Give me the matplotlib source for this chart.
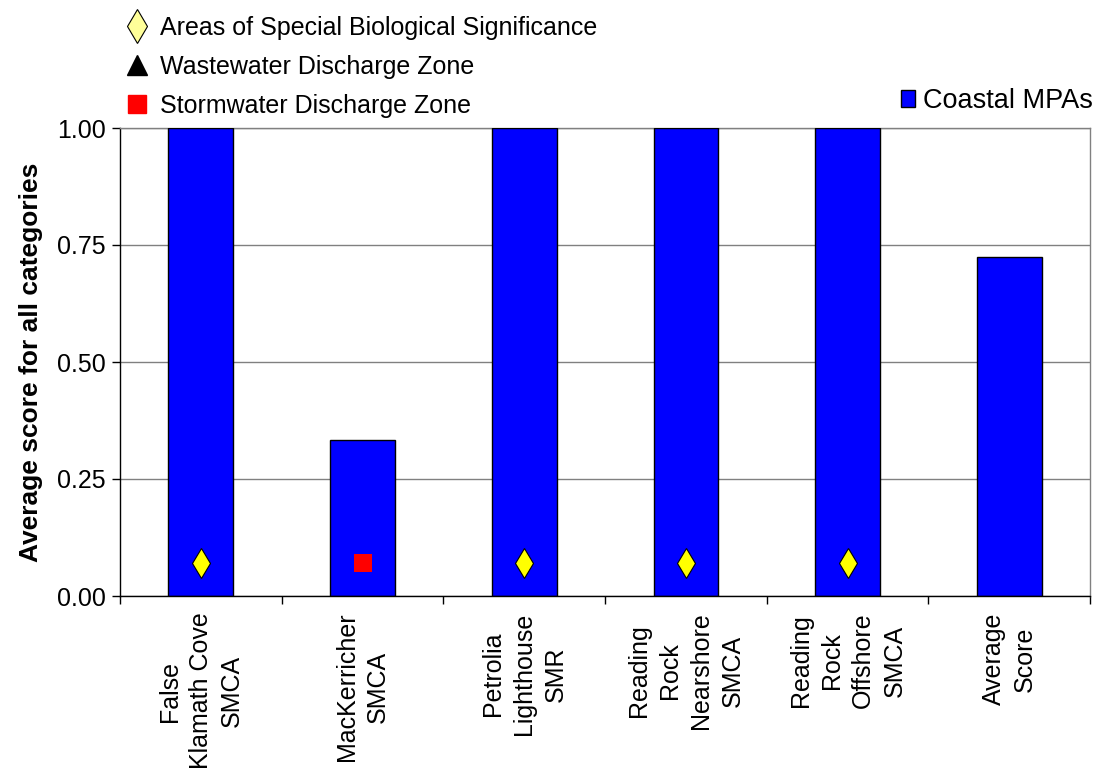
import matplotlib
matplotlib.use("Agg")
import matplotlib.pyplot as plt
from matplotlib.lines import Line2D
from matplotlib.patches import Patch
import numpy as np

plt.rcParams['font.family'] = ['Liberation Sans', 'DejaVu Sans']

categories = ["False\nKlamath Cove\nSMCA", "MacKerricher\nSMCA", "Petrolia\nLighthouse\nSMR",
              "Reading\nRock\nNearshore\nSMCA", "Reading\nRock\nOffshore\nSMCA", "Average\nScore"]
scores = [1.0, 0.333, 1.0, 1.0, 1.0, 0.725]
# marker type per category: 'asbs', 'storm', or None
zone_type = ['asbs', 'storm', 'asbs', 'asbs', 'asbs', None]
marker_y = 0.07
yticks = [0.0, 0.25, 0.5, 0.75, 1.0]

fig = plt.figure(figsize=(10.96, 7.75), dpi=100)
ax = fig.add_axes([120/1096, 1-596/775, (1090-120)/1096, (596-128)/775])

x = np.arange(len(categories))
ax.bar(x, scores, width=0.4, color='#0000FF', edgecolor='black', linewidth=1.0, zorder=3)

asbs_x = [xi for xi, t in zip(x, zone_type) if t == 'asbs']
storm_x = [xi for xi, t in zip(x, zone_type) if t == 'storm']
ax.plot(asbs_x, [marker_y]*len(asbs_x), linestyle='none', marker='d', markersize=15,
        markerfacecolor='#FFFF00', markeredgecolor='black', markeredgewidth=0.8, zorder=4)
ax.plot(storm_x, [marker_y]*len(storm_x), linestyle='none', marker='s', markersize=13.5,
        markerfacecolor='#FF0000', markeredgecolor='#FF0000', markeredgewidth=0, zorder=4)

ax.set_xlim(-0.5, len(categories)-0.5)
ax.set_ylim(0, 1.0)
ax.set_yticks(yticks)
ax.set_yticklabels([f"{v:.2f}" for v in yticks], fontsize=18)
ax.yaxis.grid(True, color='#808080', linewidth=1.0, zorder=0)
ax.tick_params(axis='y', length=6, width=1, direction='out', pad=4, colors='black')

# x ticks between categories
ax.set_xticks(np.arange(len(categories)+1) - 0.5, minor=False)
ax.set_xticklabels([])
ax.tick_params(axis='x', length=6, width=1, direction='out', color='black')
ax.set_xticks(x, minor=True)
ax.set_xticklabels(categories, minor=True, rotation=90, fontsize=18,
                   ha='center', va='top', multialignment='center', linespacing=1.38)
ax.tick_params(axis='x', which='minor', length=0, pad=12)

for s in ['left', 'bottom']:
    ax.spines[s].set_color('black')
    ax.spines[s].set_linewidth(1.0)
for s in ['top', 'right']:
    ax.spines[s].set_color('#808080')
    ax.spines[s].set_linewidth(1.0)
ax.spines['bottom'].set_zorder(5)

ax.set_ylabel("Average score for all categories", fontsize=19, fontweight='bold', labelpad=10)

# zone legend (top left)
h1 = Line2D([], [], linestyle='none', marker='d', markersize=17, markerfacecolor='#FFFF99',
            markeredgecolor='black', markeredgewidth=0.8)
h2 = Line2D([], [], linestyle='none', marker='^', markersize=14, markerfacecolor='black',
            markeredgecolor='black')
h3 = Line2D([], [], linestyle='none', marker='s', markersize=13, markerfacecolor='#FF0000',
            markeredgecolor='#FF0000')
fig.legend([h1, h2, h3], ["Areas of Special Biological Significance", "Wastewater Discharge Zone",
                          "Stormwater Discharge Zone"],
           loc='upper left', bbox_to_anchor=(126/1096, 1-16/775), frameon=False, fontsize=18,
           handlelength=0.9, handletextpad=0.45, labelspacing=0.6, borderpad=0, borderaxespad=0)

# series legend (top right)
fig.legend([Patch(facecolor='#0000FF', edgecolor='black', linewidth=1.0)], ["Coastal MPAs"],
           loc='center right', bbox_to_anchor=(1093/1096, 1-101/775), frameon=False, fontsize=19.5,
           handlelength=0.5, handleheight=0.55, handletextpad=0.3, borderpad=0, borderaxespad=0)

fig.savefig("out.png", dpi=100)
